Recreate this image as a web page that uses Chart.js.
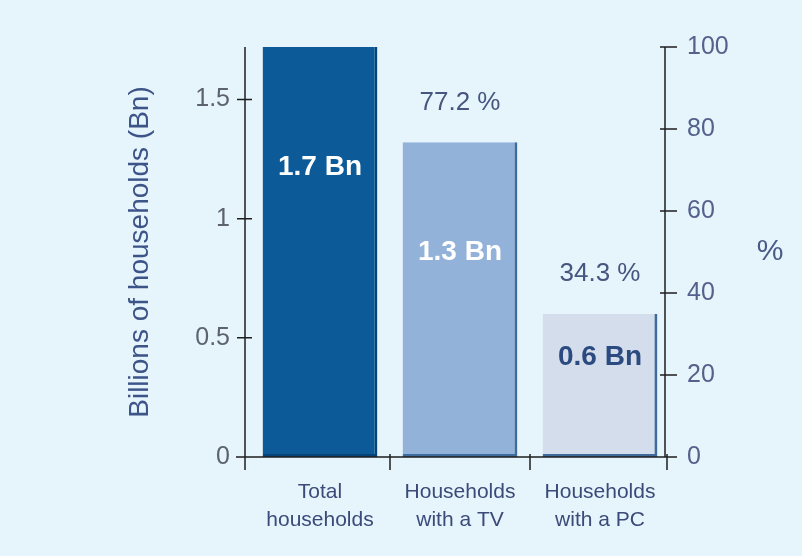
<!DOCTYPE html>
<html>
<head>
<meta charset="utf-8">
<script src="https://cdn.jsdelivr.net/npm/chart.js@4"></script>
<style>
  html, body { margin: 0; padding: 0; background: #e6f4fc; }
  canvas { display: block; }
</style>
</head>
<body>
<canvas id="householdChart" width="802" height="556"></canvas>
<script>
// 카테고리 / 값
const categories = [['Total', 'households'], ['Households', 'with a TV'], ['Households', 'with a PC']];
const billions = [1.72, 1.32, 0.6];
const valueLabels = ['1.7 Bn', '1.3 Bn', '0.6 Bn'];
const shareLabels = ['', '77.2 %', '34.3 %'];
const leftTicks = [0, 0.5, 1, 1.5];
const rightMax = 100;

const FONT = '"Liberation Sans", Arial, Helvetica, sans-serif';

// 축 선 + 양쪽으로 걸치는 눈금 (축은 막대 영역보다 5px 왼쪽)
const axisMarks = {
  id: 'axisMarks',
  afterDraw(chart) {
    const { ctx, chartArea } = chart;
    const y = chart.scales.y, y2 = chart.scales.y2;
    const leftX = chartArea.left - 5;
    const rightX = chartArea.right - 5;
    const step = (chartArea.right - chartArea.left) / categories.length;
    ctx.save();
    ctx.strokeStyle = '#1e1e1e';
    ctx.lineWidth = 1.5;
    ctx.beginPath();
    ctx.moveTo(leftX, chartArea.top);
    ctx.lineTo(leftX, chartArea.bottom);
    ctx.moveTo(rightX, chartArea.top);
    ctx.lineTo(rightX, chartArea.bottom);
    ctx.moveTo(leftX - 9, chartArea.bottom);
    ctx.lineTo(rightX + 8, chartArea.bottom);
    y.ticks.forEach((t) => {
      const py = y.getPixelForValue(t.value);
      ctx.moveTo(leftX - 8, py);
      ctx.lineTo(leftX + 7, py);
    });
    y2.ticks.forEach((t) => {
      const py = y2.getPixelForValue(t.value);
      ctx.moveTo(rightX - 5, py);
      ctx.lineTo(rightX + 12, py);
    });
    for (let i = 0; i <= categories.length; i++) {
      let px = chartArea.left + step * i;
      if (i === 0) px = leftX;
      if (i === categories.length) px = rightX + 2;
      ctx.moveTo(px, chartArea.bottom - 3);
      ctx.lineTo(px, chartArea.bottom + 13);
    }
    ctx.stroke();

    // 오른쪽 축 제목 '%' (세우지 않음)
    ctx.font = '30px ' + FONT;
    ctx.fillStyle = '#4a5a86';
    ctx.textAlign = 'center';
    ctx.textBaseline = 'middle';
    ctx.fillText('%', 770, (chartArea.top + chartArea.bottom) / 2);
    ctx.restore();
  },
};

// 막대 안 값 + 막대 위 비율 텍스트
const barTexts = {
  id: 'barTexts',
  afterDatasetsDraw(chart, args, opts) {
    const { ctx } = chart;
    const meta = chart.getDatasetMeta(0);
    const y = chart.scales.y;
    ctx.save();
    ctx.textAlign = 'center';
    ctx.textBaseline = 'middle';
    meta.data.forEach((bar, i) => {
      ctx.font = 'bold 28px ' + FONT;
      ctx.fillStyle = opts.insideColors[i];
      ctx.fillText(valueLabels[i], bar.x, y.getPixelForValue(opts.insideY[i]));
      if (shareLabels[i]) {
        ctx.font = '26px ' + FONT;
        ctx.fillStyle = '#46567f';
        ctx.fillText(shareLabels[i], bar.x, bar.y - 40);
      }
    });
    ctx.restore();
  },
};

const chart = new Chart(document.getElementById('householdChart'), {
  type: 'bar',
  data: {
    labels: categories,
    datasets: [{
      label: 'Billions of households',
      data: billions,
      backgroundColor: ['#0c5a98', '#93b2da', '#d4ddeb'],
      borderColor: ['#04447a', '#3f6c9e', '#3e6b9b'],
      borderWidth: { top: 0, left: 0, right: 3, bottom: 3 },
      borderSkipped: false,
      barPercentage: 0.82,
      categoryPercentage: 1,
    }],
  },
  options: {
    responsive: false,
    animation: false,
    layout: { padding: { top: 47 } },
    plugins: {
      legend: { display: false },
      tooltip: { enabled: false },
      barTexts: {
        insideY: [1.215, 0.86, 0.42],
        insideColors: ['#ffffff', '#ffffff', '#2b4a80'],
      },
    },
    scales: {
      x: {
        offset: true,
        grid: { display: false, drawTicks: false },
        border: { display: false },
        ticks: {
          padding: 22,
          color: '#3b4a78',
          font: { family: FONT, size: 21, lineHeight: 1.3 },
          maxRotation: 0,
        },
        afterFit: (scale) => { scale.height = 99; },
      },
      y: {
        position: 'left',
        min: 0,
        max: 1.72,
        afterBuildTicks: (scale) => { scale.ticks = leftTicks.map((v) => ({ value: v })); },
        grid: { display: false, drawTicks: false },
        border: { display: false },
        ticks: {
          padding: 20,
          color: '#5c6270',
          font: { family: FONT, size: 25 },
          callback: (v) => String(v),
        },
        title: {
          display: true,
          text: 'Billions of households (Bn)',
          color: '#3d5488',
          font: { family: FONT, size: 28 },
          padding: { top: 123, bottom: 0 },
        },
        afterFit: (scale) => { scale.width = 250; },
      },
      y2: {
        position: 'right',
        min: 0,
        max: rightMax,
        grid: { display: false, drawTicks: false },
        border: { display: false },
        ticks: {
          stepSize: 20,
          padding: 17,
          color: '#55618b',
          font: { family: FONT, size: 25 },
        },
        afterFit: (scale) => { scale.width = 132; },
      },
    },
  },
  plugins: [axisMarks, barTexts],
});
</script>
</body>
</html>
